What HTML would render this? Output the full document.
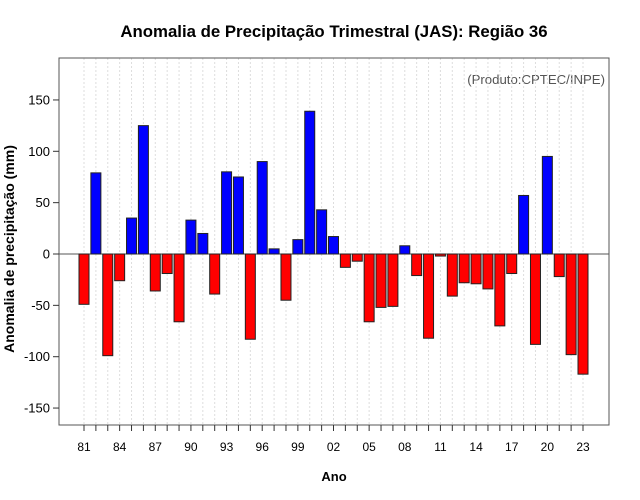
<!DOCTYPE html>
<html><head><meta charset="utf-8"><style>
body{margin:0;background:#fff;}
svg{display:block;font-family:"Liberation Sans",sans-serif;}
</style></head><body>
<svg id="chart" width="640" height="500" viewBox="0 0 640 500" xmlns="http://www.w3.org/2000/svg">
<rect x="0" y="0" width="640" height="500" fill="#fff"/>
<text x="334" y="37" text-anchor="middle" font-size="16.8" font-weight="bold">Anomalia de Precipitação Trimestral (JAS): Região 36</text>
<text x="605" y="84" text-anchor="end" font-size="13.2" fill="#555">(Produto:CPTEC/INPE)</text>
<text x="334" y="481" text-anchor="middle" font-size="13" font-weight="bold">Ano</text>
<text transform="translate(14,249) rotate(-90)" text-anchor="middle" font-size="14" font-weight="bold">Anomalia de precipitação (mm)</text>
<g id="grid"></g><g id="bars"></g><g id="axes"></g>
</svg>
<script>
const years = [1981,1982,1983,1984,1985,1986,1987,1988,1989,1990,1991,1992,1993,1994,1995,1996,1997,1998,1999,2000,2001,2002,2003,2004,2005,2006,2007,2008,2009,2010,2011,2012,2013,2014,2015,2016,2017,2018,2019,2020,2021,2022,2023];
const anomalies = [-49,79,-99,-26,35,125,-36,-19,-66,33,20,-39,80,75,-83,90,5,-45,14,139,43,17,-13,-7,-66,-52,-51,8,-21,-82,-2,-41,-28,-29,-34,-70,-19,57,-88,95,-22,-98,-117];
const yTicks = [-150,-100,-50,0,50,100,150];
const NS='http://www.w3.org/2000/svg';
const L=59,R=609,T=58,B=425;
function x(yr){return 84+(yr-1981)*(499/42);}
function y(v){return 254-v*1.027;}
function mk(tag,attrs,parent){const e=document.createElementNS(NS,tag);for(const k in attrs)e.setAttribute(k,attrs[k]);parent.appendChild(e);return e;}
const grid=document.getElementById('grid'),bars=document.getElementById('bars'),axes=document.getElementById('axes');
years.forEach(yr=>{
  const g=mk('line',{x1:x(yr),x2:x(yr),y1:T,y2:B,stroke:'#ddd','stroke-dasharray':'2,2','stroke-width':1},grid);
  
  
});
mk('line',{x1:L,x2:R,y1:y(0),y2:y(0),stroke:'#555','stroke-width':1},grid);
years.forEach((yr,i)=>{
  const v=anomalies[i];
  const top=Math.min(y(v),y(0)),h=Math.abs(y(v)-y(0));
  const r=mk('rect',{x:x(yr)-5,y:top,width:10,height:h,fill:v>=0?'#0000ff':'#ff0000',stroke:'#222','stroke-width':1},bars);
  
  
});
const box=mk('rect',{x:L,y:T,width:R-L,height:B-T,fill:'none',stroke:'#555','stroke-width':1},axes);


yTicks.forEach(t=>{
  mk('line',{x1:L-6,x2:L,y1:y(t),y2:y(t),stroke:'#333'},axes);
  const tx=mk('text',{x:L-9,y:y(t)+4.5,'text-anchor':'end','font-size':13},axes);
  tx.textContent=t;
  
  
});
years.forEach((yr,i)=>{
  mk('line',{x1:x(yr),x2:x(yr),y1:B,y2:B+6,stroke:'#333'},axes);
  if(i%3===0){
    const tx=mk('text',{x:x(yr),y:451,'text-anchor':'middle','font-size':12},axes);
    tx.textContent=String(yr%100).padStart(2,'0');
    
    
  }
});
</script>
</body></html>
